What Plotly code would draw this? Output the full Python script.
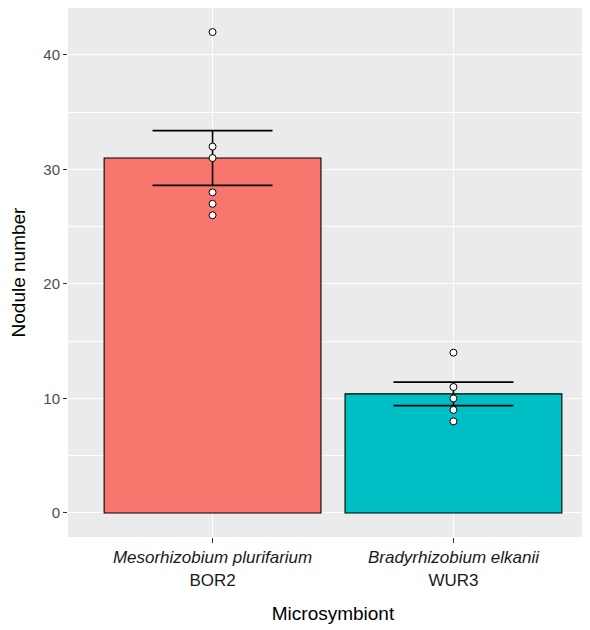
import plotly.graph_objects as go
import numpy as np

categories = ["<i>Mesorhizobium plurifarium</i><br>BOR2", "<i>Bradyrhizobium elkanii</i><br>WUR3"]
bor2_values = [42, 32, 31, 28, 27, 26]
wur3_values = [14, 11, 10, 9, 8]
bar_colors = ["#F8766D", "#00BFC4"]
y_tickvals = [0, 10, 20, 30, 40]

groups = [bor2_values, wur3_values]
means = [float(np.mean(g)) for g in groups]
ses = [float(np.std(g, ddof=1) / np.sqrt(len(g))) for g in groups]

fig = go.Figure()
fig.add_trace(go.Bar(
    x=categories, y=means, width=0.9,
    marker=dict(color=bar_colors, line=dict(color="black", width=1.1)),
    error_y=dict(type="data", array=ses, visible=True, color="black", thickness=1.6, width=60),
    showlegend=False, hoverinfo="skip",
))
px_x, px_y = [], []
for c, g in zip(categories, groups):
    px_x += [c] * len(g)
    px_y += g
fig.add_trace(go.Scatter(
    x=px_x, y=px_y, mode="markers",
    marker=dict(color="white", size=7, line=dict(color="black", width=1)),
    showlegend=False, hoverinfo="skip",
))

fig.update_layout(
    width=590, height=630,
    margin=dict(l=60, r=0, t=0, b=101),
    paper_bgcolor="white", plot_bgcolor="#EBEBEB",
    font=dict(family="Liberation Sans, Arial, sans-serif", color="#1A1A1A"),
    bargap=0.1,
)
fig.update_xaxes(
    type="category", range=[-0.6, 1.6],
    showgrid=True, gridcolor="white", gridwidth=1.1,
    ticks="outside", ticklen=5, tickcolor="#333333", tickwidth=1,
    tickfont=dict(size=17, color="#1A1A1A"),
    title=dict(text="Microsymbiont", font=dict(size=19, color="black"), standoff=18),
    showline=False, zeroline=False,
)
fig.update_yaxes(
    range=[-2.1, 44.1], tickvals=y_tickvals,
    showgrid=True, gridcolor="white", gridwidth=1.1,
    minor=dict(tickvals=[5, 15, 25, 35], showgrid=True, gridcolor="white", gridwidth=0.5, ticks=""),
    ticks="outside", ticklen=4, tickcolor="#333333", tickwidth=1,
    tickfont=dict(size=15, color="#4D4D4D"),
    title=dict(text="Nodule number", font=dict(size=19, color="black"), standoff=12),
    showline=False, zeroline=False,
)
fig.write_html("out.html")
